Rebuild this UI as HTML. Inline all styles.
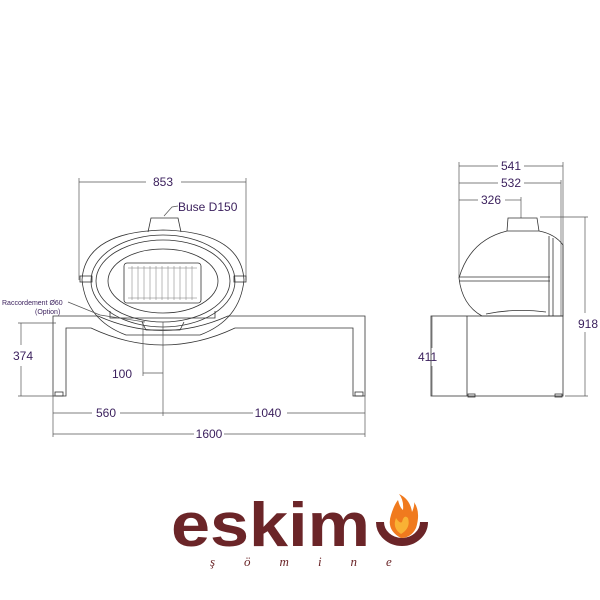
<!DOCTYPE html>
<html><head><meta charset="utf-8"><style>
html,body{margin:0;padding:0;background:#fff;}
svg{display:block}
.d{stroke:#555;stroke-width:0.7;fill:none}
.s{stroke:#333;stroke-width:0.8;fill:none}
.t{font-family:"Liberation Sans",sans-serif;font-size:12px;fill:#3a1f5c}
</style></head><body>
<svg width="600" height="600" viewBox="0 0 600 600" xmlns="http://www.w3.org/2000/svg">
<!-- FRONT VIEW -->
<line class="d" x1="79" y1="182" x2="146" y2="182"/><line class="d" x1="181" y1="182" x2="246" y2="182"/>
<line class="d" x1="79" y1="178" x2="79" y2="280"/><line class="d" x1="246" y1="178" x2="246" y2="280"/>
<text class="t" x="163" y="186" text-anchor="middle">853</text>
<text class="t" x="178" y="211">Buse D150</text>
<path class="d" d="M178 206 L172 207 L164 216"/>
<path class="s" d="M148 232 L151 218 L178 218 L181 232"/>
<path class="s" d="M82 280 Q85 232 163 230 Q241 232 244 280 Q240 320 200 335 L126 335 Q86 320 82 280 Z"/>
<ellipse class="s" cx="163" cy="281" rx="72" ry="46"/>
<ellipse class="s" cx="163" cy="281" rx="67" ry="41"/>
<ellipse class="s" cx="163" cy="281" rx="55" ry="32"/>
<rect class="s" x="124" y="263" width="77" height="40" rx="3"/>
<g stroke="#777" stroke-width="0.5">
<line x1="128" y1="268" x2="197" y2="268"/><line x1="128" y1="298" x2="197" y2="298"/>
<line x1="132" y1="266" x2="132" y2="300"/><line x1="138" y1="266" x2="138" y2="300"/><line x1="144" y1="266" x2="144" y2="300"/><line x1="150" y1="266" x2="150" y2="300"/><line x1="156" y1="266" x2="156" y2="300"/><line x1="162" y1="266" x2="162" y2="300"/><line x1="168" y1="266" x2="168" y2="300"/><line x1="174" y1="266" x2="174" y2="300"/><line x1="180" y1="266" x2="180" y2="300"/><line x1="186" y1="266" x2="186" y2="300"/><line x1="192" y1="266" x2="192" y2="300"/>
</g>
<rect class="s" x="80" y="276" width="12" height="6"/><rect class="s" x="234" y="276" width="12" height="6"/>
<path class="s" d="M110 311 L110 318 L215 318 L215 311"/>
<path class="s" d="M53 316 L98 316 Q163 345 228 316 L365 316 L365 396 L353 396 L353 328 L235 328 Q163 362 91 328 L66 328 L66 396 L53 396 Z"/>
<rect class="s" x="55" y="392" width="8" height="4"/><rect class="s" x="355" y="392" width="8" height="4"/>
<path class="s" d="M142 322 L146 330 L180 330 L184 322"/>
<text x="2" y="305" font-family="Liberation Sans,sans-serif" font-size="7" fill="#3a1f5c">Raccordement  Ø60</text>
<text x="35" y="314" font-family="Liberation Sans,sans-serif" font-size="7" fill="#3a1f5c">(Option)</text>
<path class="d" d="M68 302 L100 315 L145 322"/>
<line class="d" x1="21" y1="323" x2="21" y2="345"/><line class="d" x1="21" y1="366" x2="21" y2="396"/>
<line class="d" x1="18" y1="323" x2="56" y2="323"/><line class="d" x1="18" y1="396" x2="56" y2="396"/>
<text class="t" x="13" y="360">374</text>
<line class="d" x1="143" y1="322" x2="143" y2="376"/><line class="d" x1="163" y1="322" x2="163" y2="416"/>
<line class="d" x1="143" y1="373" x2="163" y2="373"/>
<text class="t" x="112" y="378">100</text>
<line class="d" x1="53" y1="413" x2="92" y2="413"/><line class="d" x1="120" y1="413" x2="253" y2="413"/><line class="d" x1="287" y1="413" x2="365" y2="413"/>
<line class="d" x1="53" y1="396" x2="53" y2="437"/><line class="d" x1="365" y1="396" x2="365" y2="437"/>
<text class="t" x="106" y="417" text-anchor="middle">560</text>
<text class="t" x="268" y="417" text-anchor="middle">1040</text>
<line class="d" x1="53" y1="434" x2="194" y2="434"/><line class="d" x1="224" y1="434" x2="365" y2="434"/>
<text class="t" x="209" y="438" text-anchor="middle">1600</text>

<!-- SIDE VIEW -->
<line class="d" x1="459" y1="166" x2="498" y2="166"/><line class="d" x1="524" y1="166" x2="563" y2="166"/>
<text class="t" x="511" y="170" text-anchor="middle">541</text>
<line class="d" x1="459" y1="183" x2="498" y2="183"/><line class="d" x1="524" y1="183" x2="561" y2="183"/>
<text class="t" x="511" y="187" text-anchor="middle">532</text>
<line class="d" x1="459" y1="200" x2="478" y2="200"/><line class="d" x1="505" y1="200" x2="521" y2="200"/>
<text class="t" x="491" y="204" text-anchor="middle">326</text>
<line class="d" x1="459" y1="162" x2="459" y2="278"/><line class="d" x1="563" y1="162" x2="563" y2="316"/>
<line class="d" x1="561" y1="180" x2="561" y2="316"/><line class="d" x1="521" y1="197" x2="521" y2="218"/>
<path class="s" d="M507 231 L508 218 L537 218 L539 231"/>
<path class="s" d="M507 231 Q470 240 459 278 Q462 305 482 316 L563 316 L563 245 Q555 234 539 231 Z"/>
<line class="s" x1="459" y1="277" x2="550" y2="277"/><line class="s" x1="459" y1="281" x2="550" y2="281"/>
<path class="s" d="M549 236 L549 316 M553 238 L553 316"/>
<path class="s" d="M486 314 Q515 308 546 312"/>
<rect class="s" x="431" y="316" width="132" height="80"/>
<line class="s" x1="467" y1="316" x2="467" y2="396"/>
<rect class="s" x="468" y="394" width="7" height="3"/><rect class="s" x="555" y="394" width="7" height="3"/>
<line class="d" x1="540" y1="217" x2="588" y2="217"/><line class="d" x1="565" y1="396" x2="588" y2="396"/>
<line class="d" x1="585" y1="217" x2="585" y2="313"/><line class="d" x1="585" y1="332" x2="585" y2="396"/>
<text class="t" x="578" y="328">918</text>
<line class="d" x1="432" y1="316" x2="432" y2="348"/><line class="d" x1="432" y1="366" x2="432" y2="396"/>
<text class="t" x="418" y="361">411</text>

<!-- LOGO -->
<text x="171" y="546" font-family="Liberation Sans,sans-serif" font-weight="bold" font-size="62" fill="#6b2528" textLength="199" lengthAdjust="spacingAndGlyphs">eskim</text>
<path d="M380 522 A22 20 0 0 0 424 522" stroke="#6b2528" stroke-width="8" fill="none"/>
<path d="M401 538 Q386 530 391 515 Q394 505 398 500 Q400 508 403 510 Q404 500 399 494 Q410 499 412 512 Q415 505 414 502 Q421 512 416 528 Q411 538 401 538 Z" fill="#f07a1e"/>
<path d="M401 534 Q392 528 396 518 Q400 524 402 522 Q404 514 408 518 Q411 528 401 534 Z" fill="#f9b234"/>
<text x="210" y="566" font-family="Liberation Serif,serif" font-style="italic" font-size="13" fill="#6b2528" letter-spacing="29">şömine</text>
</svg>
</body></html>
